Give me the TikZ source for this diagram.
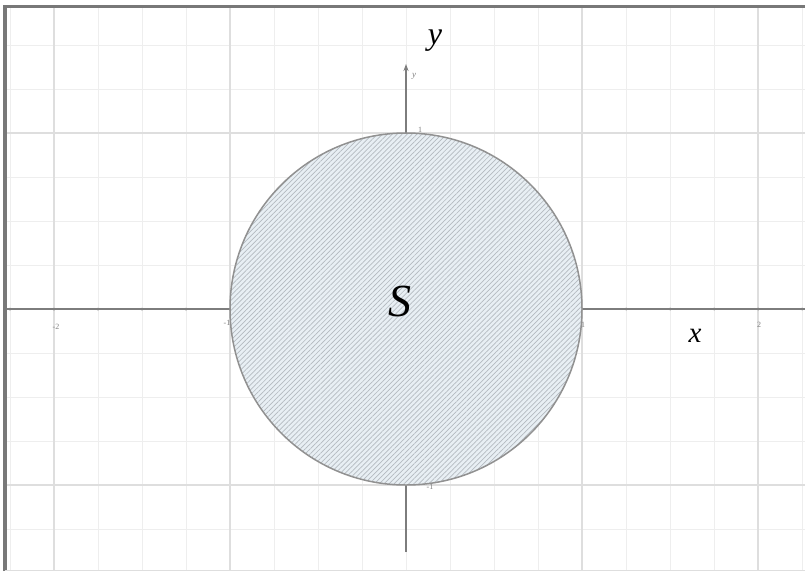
\documentclass[tikz,border=0pt]{standalone}
\usepackage{fontspec}
\setmainfont{Liberation Serif}
\usetikzlibrary{patterns.meta,arrows.meta}
\definecolor{minorgrid}{RGB}{238,238,238}
\definecolor{majorgrid}{RGB}{222,222,222}
\definecolor{axiscol}{RGB}{125,125,125}
\definecolor{framecol}{RGB}{120,120,120}
\definecolor{diskfill}{RGB}{232,239,244}
\definecolor{hatchcol}{RGB}{180,186,192}
\definecolor{rimcol}{RGB}{145,145,145}
\tikzset{
  minorline/.style={draw=minorgrid, line width=0.9pt},
  majorline/.style={draw=majorgrid, line width=1.1pt},
  axisline/.style={draw=axiscol, line width=1.3pt},
  ticklabel/.style={text=gray, font=\fontsize{8}{8}\selectfont, inner sep=0pt},
  biglabel/.style={font=\itshape\fontsize{32}{32}\selectfont, inner sep=0pt},
}
\begin{document}
\begin{tikzpicture}[x=1pt,y=-1pt]
\useasboundingbox (0,0) rectangle (805,571);
\fill[white] (0,0) rectangle (805,571);
% minor grid
\foreach \i in {-9,...,9}
  \draw[minorline] ({406+44*\i},8) -- ({406+44*\i},571);
\foreach \j in {-6,...,6}
  \draw[minorline] (7,{309+44*\j}) -- (805,{309+44*\j});
% major grid
\foreach \i in {-2,-1,1,2}
  \draw[majorline] ({406+176*\i},8) -- ({406+176*\i},571);
\foreach \j in {-1,1}
  \draw[majorline] (7,{309+176*\j}) -- (805,{309+176*\j});
% frame
\draw[framecol, line width=3.5pt] (5,571) -- (5,6.5) -- (805,6.5);
\draw[majorgrid, line width=1pt] (5,570) -- (805,570);
% axes
\coordinate (O) at (406,309);
\coordinate (xl) at (7,309);
\coordinate (xr) at (805,309);
\coordinate (yb) at (406,552);
\coordinate (yt) at (406,64);
\draw[axisline] (xl) -- (xr);
\draw[axisline, -{Stealth[length=7pt,width=5pt]}] (yb) -- (yt);
% ticks on x-axis
\foreach \i in {-9,...,9}
  \fill[axiscol] ({406+44*\i},309) circle (1.5);
% disk (covers the axes)
\fill[diskfill] (O) circle (176);
\fill[pattern={Lines[angle=45,distance=3.5pt,line width=0.7pt]}, pattern color=hatchcol] (O) circle (176);
\draw[rimcol, line width=1.5pt] (O) circle (176);
% tick labels
\node[ticklabel] (tm2) at (56,327) {-2};
\node[ticklabel] (tm1) at (227,323) {-1};
\node[ticklabel] (tp1) at (583,325) {1};
\node[ticklabel] (tp2) at (759,325) {2};
\node[ticklabel] (ty1) at (420,130) {1};
\node[ticklabel] (tym1) at (430,487) {-1};
\node[ticklabel, font=\itshape\fontsize{9}{9}\selectfont] (ysmall) at (414,76) {y};
% big labels
\node[biglabel] (ylab) at (435,41) {y};
\node[biglabel, font=\itshape\fontsize{29}{29}\selectfont] (xlab) at (695,336) {x};
\node[biglabel, font=\itshape\fontsize{46}{46}\selectfont] (S) at (400,301) {S};
\end{tikzpicture}
\end{document}
